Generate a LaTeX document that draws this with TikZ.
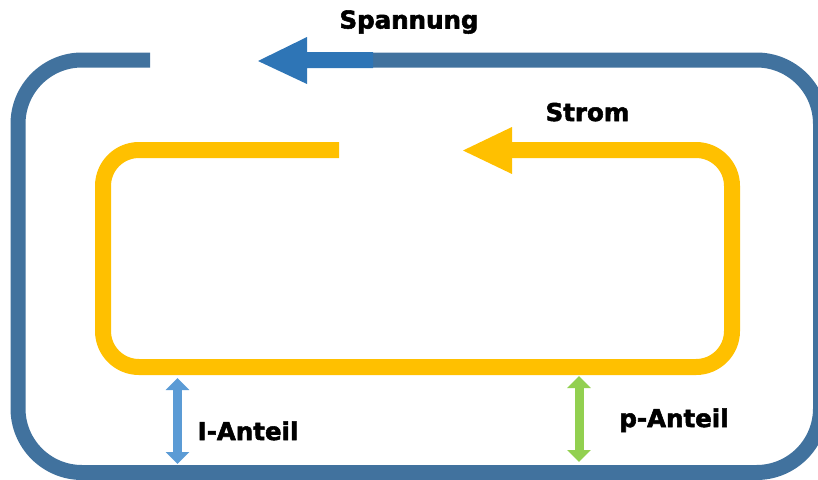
\documentclass[tikz,border=0pt]{standalone}
\usepackage{fontspec}
\newfontfamily\lblfont{DejaVu Sans}[BoldFeatures={FakeBold=2.2}]
\usetikzlibrary{arrows.meta}
\definecolor{loopblue}{HTML}{41729E}
\definecolor{arrblue}{HTML}{2E75B6}
\definecolor{curyellow}{HTML}{FFC000}
\definecolor{lightblue}{HTML}{5B9BD5}
\definecolor{lightgreen}{HTML}{92D050}
\tikzset{
  lbl/.style={font=\lblfont\bfseries\fontsize{24.5}{28}\selectfont, text=black, inner sep=0pt, anchor=base},
  outerloop/.style={draw=loopblue, line width=15pt, rounded corners=64pt, line cap=butt},
  innerloop/.style={draw=curyellow, line width=16pt, rounded corners=36pt, line cap=butt},
  dblarrow/.style={line width=9pt, {Triangle[length=12pt,width=23pt]}-{Triangle[length=12pt,width=23pt]}}
}
\begin{document}
\begin{tikzpicture}[x=1pt,y=-1pt]
\useasboundingbox (0,0) rectangle (818,479);
\begin{scope}
\clip (0,0) rectangle (818,479);
% outer (voltage) loop
\coordinate (o1) at (373,60);
\coordinate (o2) at (150,60);
\draw[outerloop] (o1) -- (820.5,60) -- (820.5,472.5) -- (18,472.5) -- (18,60) -- (o2);
\end{scope}
% voltage arrow
\fill[arrblue] (373,52) -- (307,52) -- (307,37) -- (258,61) -- (307,84) -- (307,68) -- (373,68) -- cycle;
% inner (current) loop
\coordinate (i1) at (511,150);
\coordinate (i2) at (339,150);
\draw[innerloop] (i1) -- (732,150) -- (732,367) -- (103,367) -- (103,150) -- (i2);
% current arrow head
\fill[curyellow] (512,127) -- (463,150.5) -- (512,174) -- cycle;
% shares
\coordinate (ia) at (177.5,378);
\coordinate (ib) at (177.5,464);
\draw[dblarrow, draw=lightblue, fill=lightblue] (ia) -- (ib);
\coordinate (pa) at (579,376);
\coordinate (pb) at (579,462);
\draw[dblarrow, draw=lightgreen, fill=lightgreen] (pa) -- (pb);
% labels
\node[lbl] (spannung) at (409,28.5) {Spannung};
\node[lbl] (strom) at (587.5,121) {Strom};
\node[lbl] (ianteil) at (248,440) {I-Anteil};
\node[lbl] (panteil) at (674,427) {p-Anteil};
\end{tikzpicture}
\end{document}
